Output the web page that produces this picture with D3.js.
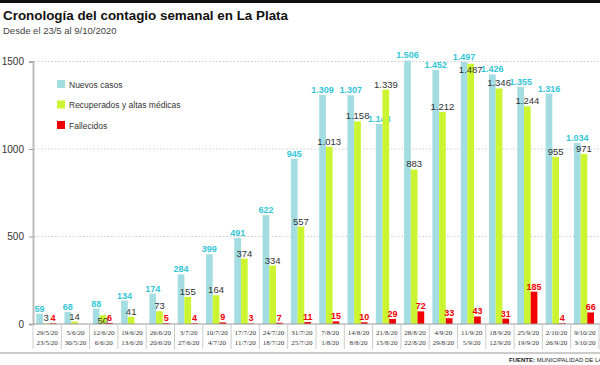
<!DOCTYPE html>
<html>
<head>
<meta charset="utf-8">
<script src="https://cdn.jsdelivr.net/npm/d3@7"></script>
<style>
body { margin: 0; background: #fff; }
svg { display: block; font-family: "Liberation Sans", Arial, sans-serif; }
</style>
</head>
<body>
<div id="chart"></div>
<script>
// semanas: fecha final / fecha inicial
var weekEnd = ["29/5/20", "5/6/20", "12/6/20", "19/6/20", "26/6/20", "3/7/20", "10/7/20", "17/7/20", "24/7/20", "31/7/20",
    "7/8/20", "14/8/20", "21/8/20", "28/8/20", "4/9/20", "11/9/20", "18/9/20", "25/9/20", "2/10/20", "9/10/20"];
var weekStart = ["23/5/20", "30/5/20", "6/6/20", "13/6/20", "20/6/20", "27/6/20", "4/7/20", "11/7/20", "18/7/20", "25/7/20",
    "1/8/20", "8/8/20", "15/8/20", "22/8/20", "29/8/20", "5/9/20", "12/9/20", "19/9/20", "26/9/20", "3/10/20"];
var nuevos = [59, 68, 88, 134, 174, 284, 399, 491, 622, 945, 1309, 1307, 1143, 1506, 1452, 1497, 1426, 1355, 1316, 1034];
var recuperados = [3, 14, 50, 41, 73, 155, 164, 374, 334, 557, 1013, 1158, 1339, 883, 1212, 1487, 1346, 1244, 955, 971];
var fallecidos = [4, 0, 6, 0, 5, 4, 9, 3, 7, 11, 15, 10, 29, 72, 33, 43, 31, 185, 4, 66];
var yTicks = [0, 500, 1000, 1500];
var seriesNames = ["Nuevos casos", "Recuperados y altas médicas", "Fallecidos"];

var width = 600, height = 365;
var colors = ["#a3dde2", "#ccf531", "#f00000"];
var labelColors = ["#35c6d6", "#333", "#f00000"];

var svg = d3.select("#chart").append("svg")
    .attr("width", width).attr("height", height);

svg.append("rect").attr("x", 0).attr("y", 0).attr("width", width).attr("height", 3).attr("fill", "#111");

svg.append("text").attr("x", 3).attr("y", 20)
    .attr("font-size", 13.4).attr("font-weight", "bold").attr("fill", "#111")
    .text("Cronología del contagio semanal en La Plata");
svg.append("text").attr("x", 3).attr("y", 34)
    .attr("font-size", 9.5).attr("fill", "#444")
    .text("Desde el 23/5 al 9/10/2020");

var x = d3.scaleBand().domain(d3.range(weekEnd.length)).range([33, 33 + 20 * 28.3]);
var y = d3.scaleLinear().domain([0, 1500]).range([324, 61.5]);
var sub = d3.scaleBand().domain([0, 1, 2]).range([3.2, 23.3]);

// grid
svg.append("g").selectAll("line").data(yTicks.filter(d => d > 0)).join("line")
    .attr("x1", 34).attr("x2", width)
    .attr("y1", d => y(d)).attr("y2", d => y(d))
    .attr("stroke", "#ccc").attr("stroke-dasharray", "1.5,2");

var yAxis = svg.append("g").attr("transform", "translate(33,0)")
    .call(d3.axisLeft(y).tickValues(yTicks).tickSize(4).tickPadding(5).tickFormat(d3.format("d")));
yAxis.select(".domain").attr("stroke", "#bbb").attr("stroke-width", 2);
yAxis.selectAll(".tick line").attr("stroke", "#999");
yAxis.selectAll(".tick text").attr("font-size", 10).attr("fill", "#333")
    .attr("font-family", "Liberation Sans, Arial, sans-serif");

var series = [nuevos, recuperados, fallecidos];
var fmt = d3.formatLocale({ decimal: ",", thousands: ".", grouping: [3], currency: ["$", ""] }).format(",d");

series.forEach(function (vals, s) {
    var g = svg.append("g");
    g.selectAll("rect").data(vals).join("rect")
        .attr("x", (d, i) => x(i) + sub(s))
        .attr("y", d => y(d))
        .attr("width", sub.bandwidth())
        .attr("height", d => y(0) - y(d))
        .attr("fill", colors[s]);
    g.selectAll("text").data(vals.map((v, i) => ({ v: v, i: i })).filter(d => d.v > 0)).join("text")
        .attr("x", d => x(d.i) + sub(s) + sub.bandwidth() / 2)
        .attr("y", function (d) {
            // recuperados casi igual a nuevos: etiqueta debajo del borde
            if (s == 1 && nuevos[d.i] >= d.v && nuevos[d.i] - d.v < 40) return y(d.v) + 9;
            return y(d.v) - 2;
        })
        .attr("text-anchor", "middle")
        .attr("font-size", s == 1 ? 9.5 : 9)
        .attr("font-weight", s == 1 ? "normal" : "bold")
        .attr("fill", labelColors[s])
        .text(d => fmt(d.v));
});

// eje x
svg.append("line").attr("x1", 33).attr("x2", width).attr("y1", 324).attr("y2", 324)
    .attr("stroke", "#999");
var xg = svg.append("g");
xg.selectAll("line").data(d3.range(weekEnd.length + 1)).join("line")
    .attr("x1", d => 33 + d * x.step()).attr("x2", d => 33 + d * x.step())
    .attr("y1", 324).attr("y2", 349)
    .attr("stroke", "#ccc");
xg.selectAll("text.a").data(weekEnd).join("text").attr("class", "a")
    .attr("x", (d, i) => x(i) + x.bandwidth() / 2).attr("y", 335)
    .attr("text-anchor", "middle").attr("font-size", 7).attr("fill", "#333")
    .attr("font-family", "Liberation Serif, serif")
    .text(d => d);
xg.selectAll("text.b").data(weekStart).join("text").attr("class", "b")
    .attr("x", (d, i) => x(i) + x.bandwidth() / 2).attr("y", 345)
    .attr("text-anchor", "middle").attr("font-size", 7).attr("fill", "#333")
    .attr("font-family", "Liberation Serif, serif")
    .text(d => d);

svg.append("line").attr("x1", 0).attr("x2", width).attr("y1", 353).attr("y2", 353)
    .attr("stroke", "#999");

var src = svg.append("text").attr("x", 509).attr("y", 362).attr("font-size", 6).attr("fill", "#222");
src.append("tspan").attr("font-weight", "bold").text("FUENTE: ");
src.append("tspan").text("MUNICIPALIDAD DE LA PLATA");

// leyenda
var leg = svg.append("g").selectAll("g").data(seriesNames).join("g")
    .attr("transform", (d, i) => "translate(57," + (80 + i * 20.5) + ")");
leg.append("rect").attr("width", 8).attr("height", 8).attr("fill", (d, i) => colors[i]);
leg.append("text").attr("x", 12).attr("y", 7.5).attr("font-size", 8.5).attr("fill", "#333").text(d => d);
</script>
</body>
</html>
